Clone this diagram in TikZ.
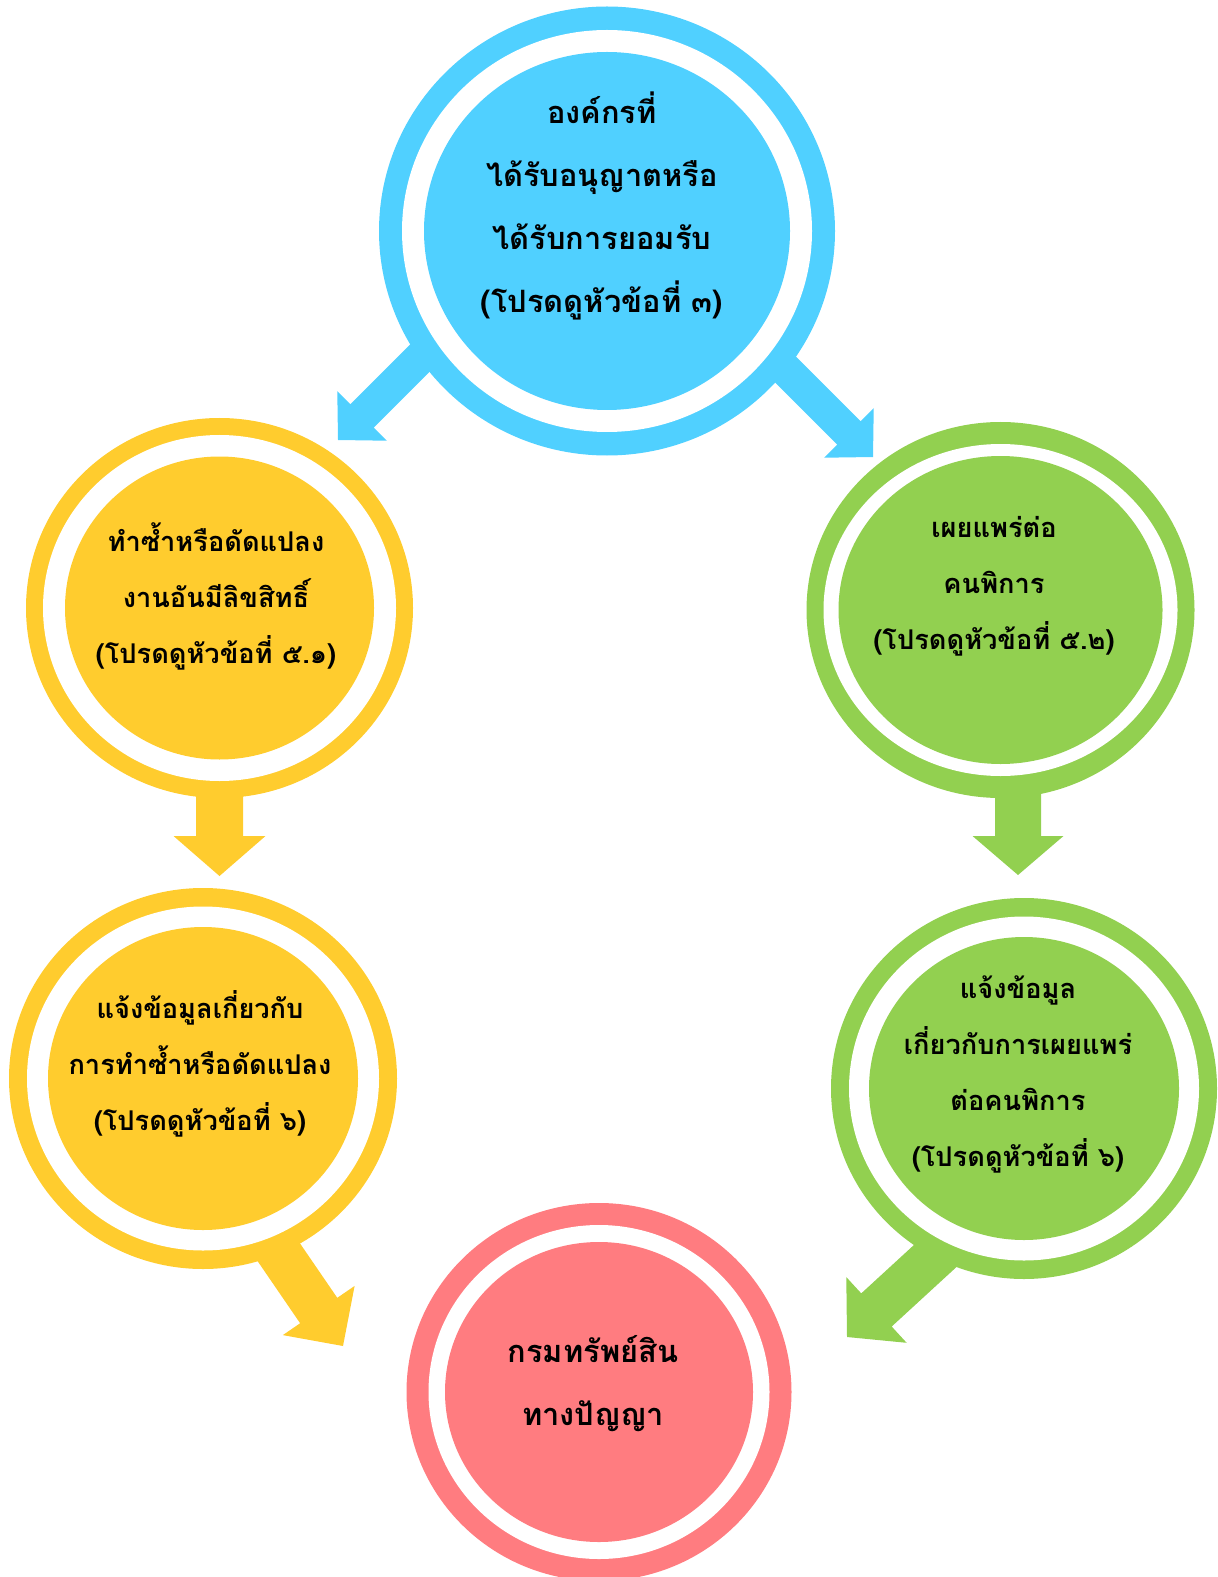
\documentclass[tikz,border=0pt]{standalone}
\usepackage{fontspec}
\newfontfamily\thaifont[Script=Thai]{Loma}
\usetikzlibrary{calc}
\definecolor{skyc}{RGB}{80,208,255}
\definecolor{sunc}{RGB}{255,204,46}
\definecolor{leafc}{RGB}{146,208,80}
\definecolor{rosec}{RGB}{255,124,128}
% block arrow: colour, start, tip, half shaft, half head, head length
\newcommand\blockarrow[6]{%
  \fill[#1] (#3) -- ($(#3)!#6!(#2)!#5!90:(#2)$) -- ($(#3)!#6!(#2)!#4!90:(#2)$)
    -- ($(#2)!#4!-90:(#3)$) -- ($(#2)!#4!90:(#3)$)
    -- ($(#3)!#6!(#2)!#4!-90:(#2)$) -- ($(#3)!#6!(#2)!#5!-90:(#2)$) -- cycle;}
\begin{document}
\begin{tikzpicture}[x=0.5pt,y=-0.5pt,
  lbl/.style={align=center,font=\thaifont\bfseries\fontsize{13.6}{28}\selectfont},
  lblbig/.style={lbl,font=\thaifont\bfseries\fontsize{15.4}{31.5}\selectfont}]
\useasboundingbox (0,0) rectangle (1218,1577);
% arrows first, the rings hide their tails
\coordinate (a1s) at (479,299);   \coordinate (a1t) at (338,440);
\coordinate (a2s) at (732,316);   \coordinate (a2t) at (873,457);
\coordinate (a3s) at (219.5,700); \coordinate (a3t) at (219.5,876);
\coordinate (a4s) at (1018,700);  \coordinate (a4t) at (1018,875);
\coordinate (a5s) at (230,1181);  \coordinate (a5t) at (343,1346);
\coordinate (a6s) at (994,1202);  \coordinate (a6t) at (847,1337);
\blockarrow{skyc}{a1s}{a1t}{8.25pt}{17.5pt}{17pt}
\blockarrow{skyc}{a2s}{a2t}{8.25pt}{17.5pt}{17pt}
\blockarrow{sunc}{a3s}{a3t}{11.75pt}{23pt}{20pt}
\blockarrow{leafc}{a4s}{a4t}{11.5pt}{22.75pt}{19.5pt}
\blockarrow{sunc}{a5s}{a5t}{11.25pt}{21.75pt}{21.5pt}
\blockarrow{leafc}{a6s}{a6t}{11.25pt}{22.3pt}{20pt}
% rings: outer, white gap, inner disc
\foreach \c/\x/\y/\ra/\rb/\wa/\wb/\ia/\ib in {
  skyc/607/231/228/224.5/205/201/183/179,
  sunc/219.5/608/193.5/190/176.5/173/154.5/151.5,
  leafc/1000.5/610/194/188/177/166/162/154,
  sunc/203/1078.5/194/190.5/176/172/155/151.5,
  leafc/1024/1088.5/193/190.5/175/172/155/151.5,
  rosec/599/1392/192.5/189/170.5/167/154/150}{
  \fill[\c] (\x,\y) ellipse [x radius=\ra, y radius=\rb];
  \fill[white] (\x,\y) ellipse [x radius=\wa, y radius=\wb];
  \fill[\c] (\x,\y) ellipse [x radius=\ia, y radius=\ib];
}
% labels
\node[lblbig] (org) at (602,206) {องค์กรที่\\ได้รับอนุญาตหรือ\\ได้รับการยอมรับ\\(โปรดดูหัวข้อที่ ๓)};
\node[lbl] (copy) at (216,596) {ทำซ้ำหรือดัดแปลง\\งานอันมีลิขสิทธิ์\\(โปรดดูหัวข้อที่ ๕.๑)};
\node[lbl] (share) at (994,586) {เผยแพร่ต่อ\\คนพิการ\\(โปรดดูหัวข้อที่ ๕.๒)};
\node[lbl] (copyinfo) at (200,1064) {แจ้งข้อมูลเกี่ยวกับ\\การทำซ้ำหรือดัดแปลง\\(โปรดดูหัวข้อที่ ๖)};
\node[lbl] (shareinfo) at (1018,1074) {แจ้งข้อมูล\\เกี่ยวกับการเผยแพร่\\ต่อคนพิการ\\(โปรดดูหัวข้อที่ ๖)};
\node[lblbig] (dip) at (593,1384) {กรมทรัพย์สิน\\ทางปัญญา};
\end{tikzpicture}
\end{document}
